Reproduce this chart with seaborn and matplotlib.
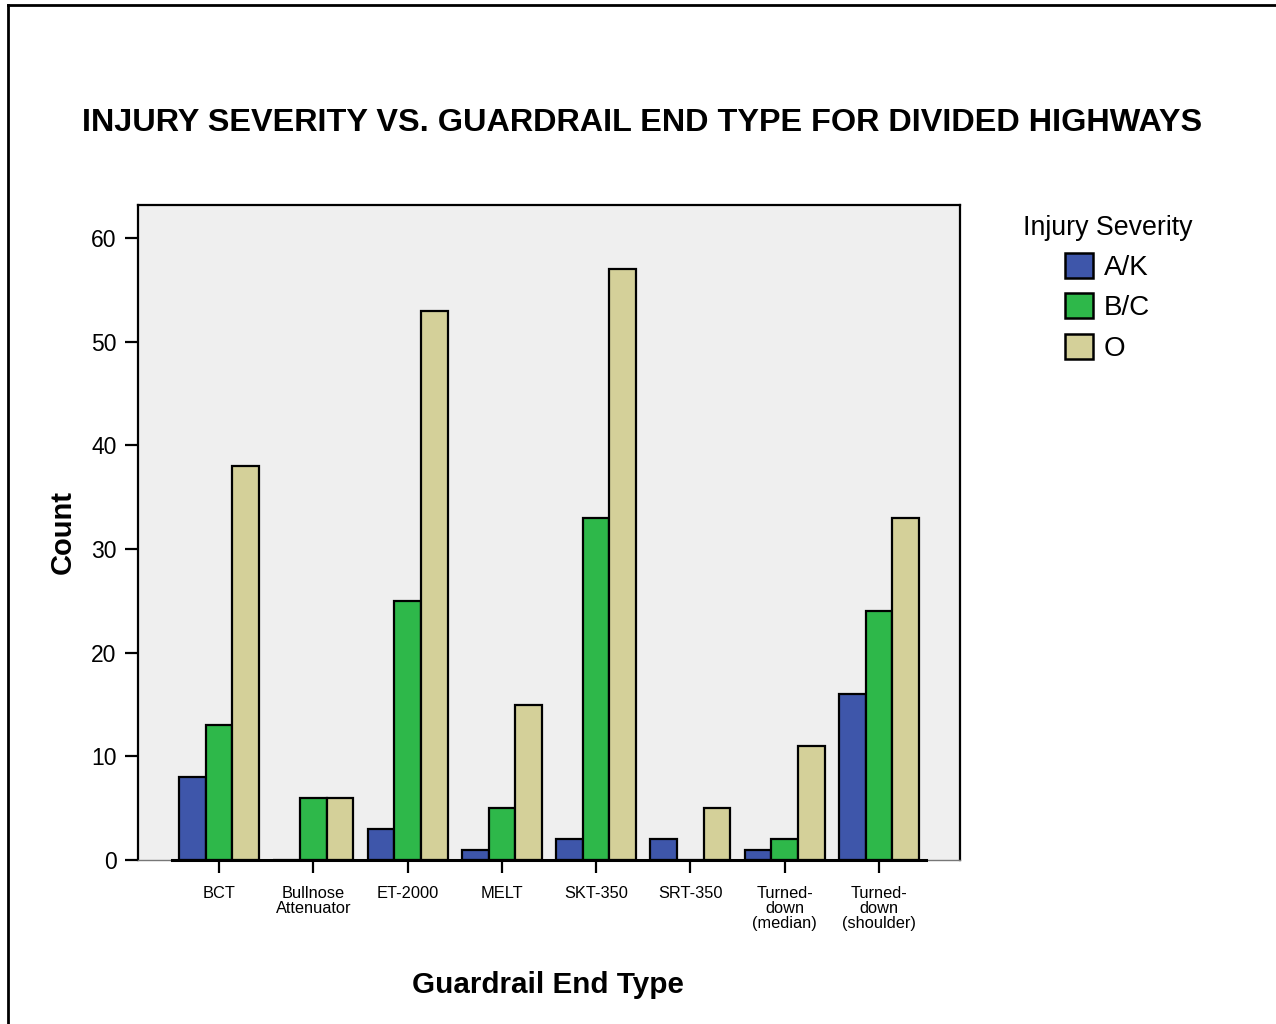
import numpy as np
import pandas as pd
import matplotlib
matplotlib.use("Agg")
import matplotlib.pyplot as plt
from matplotlib.lines import Line2D
from matplotlib.patches import Patch
import seaborn as sns

categories = ["BCT", "Bullnose\nAttenuator", "ET-2000", "MELT", "SKT-350", "SRT-350",
              "Turned-\ndown\n(median)", "Turned-\ndown\n(shoulder)"]
severity = ["A/K", "B/C", "O"]
ak_counts = [8, 0, 3, 1, 2, 2, 1, 16]
bc_counts = [13, 6, 25, 5, 33, 0, 2, 24]
o_counts = [38, 6, 53, 15, 57, 5, 11, 33]
colors = ["#3e56aa", "#2eb84a", "#d4d099"]
y_ticks = [0, 10, 20, 30, 40, 50, 60]

df = pd.DataFrame({
    "Guardrail End Type": categories * 3,
    "Injury Severity": [severity[0]] * 8 + [severity[1]] * 8 + [severity[2]] * 8,
    "Count": ak_counts + bc_counts + o_counts,
})

plt.rcParams["font.family"] = ["Liberation Sans", "DejaVu Sans"]

W, H = 1276, 1024
fig = plt.figure(figsize=(W / 100, H / 100), dpi=100)
ax = fig.add_axes([138 / W, 1 - 860 / H, (960 - 138) / W, (860 - 205) / H])
ax.set_facecolor("#efefef")

sns.barplot(data=df, x="Guardrail End Type", y="Count", hue="Injury Severity",
            order=categories, hue_order=severity, palette=colors, saturation=1,
            edgecolor="black", linewidth=1.6, width=0.85, gap=0,
            errorbar=None, ax=ax, legend=False, zorder=3)

ax.set_xlim(-0.86, 7.86)
ax.set_ylim(0, 63.2)
ax.set_yticks(y_ticks)
ax.set_yticklabels([str(v) for v in y_ticks], fontsize=16.5)
ax.tick_params(axis="y", length=9.5, width=1.6, pad=6, color="black")
ax.tick_params(axis="x", length=9, width=1.6, pad=10, labelsize=11.8, color="black")
for lbl in ax.get_xticklabels():
    lbl.set_linespacing(1.0)
    lbl.set_va("top")
ax.set_xlabel("")
ax.set_ylabel("")

for side in ["left", "top", "right"]:
    ax.spines[side].set_color("black")
    ax.spines[side].set_linewidth(1.6)
ax.spines["bottom"].set_color("#777777")
ax.spines["bottom"].set_linewidth(1.0)
ax.plot([-0.5, 7.5], [0, 0], color="black", lw=2.2, zorder=5, clip_on=False)

fig.text(642 / W, 1 - 123 / H, "INJURY SEVERITY VS. GUARDRAIL END TYPE FOR DIVIDED HIGHWAYS",
         ha="center", va="center", fontsize=23.3, fontweight="bold")
fig.text(548 / W, 1 - 985 / H, "Guardrail End Type", ha="center", va="center",
         fontsize=21.3, fontweight="bold")
fig.text(63 / W, 1 - 532 / H, "Count", ha="center", va="center", rotation=90,
         fontsize=21, fontweight="bold")

fig.text(1023 / W, 1 - 228 / H, "Injury Severity", ha="left", va="center", fontsize=19.3)
handles = [Patch(facecolor=c, edgecolor="black", linewidth=1.8) for c in colors]
leg = fig.legend(handles, severity, loc="upper left",
                 bbox_to_anchor=(1065 / W, 1 - 253 / H), frameon=False,
                 fontsize=20, handlelength=1.0, handleheight=1.0,
                 handletextpad=0.4, labelspacing=0.45, borderpad=0, borderaxespad=0)

fig.add_artist(Line2D([8 / W, 8 / W], [0, 1 - 5 / H], transform=fig.transFigure,
                      color="black", lw=2))
fig.add_artist(Line2D([8 / W, 1], [1 - 5 / H, 1 - 5 / H], transform=fig.transFigure,
                      color="black", lw=2))

fig.savefig("out.png", dpi=100)
